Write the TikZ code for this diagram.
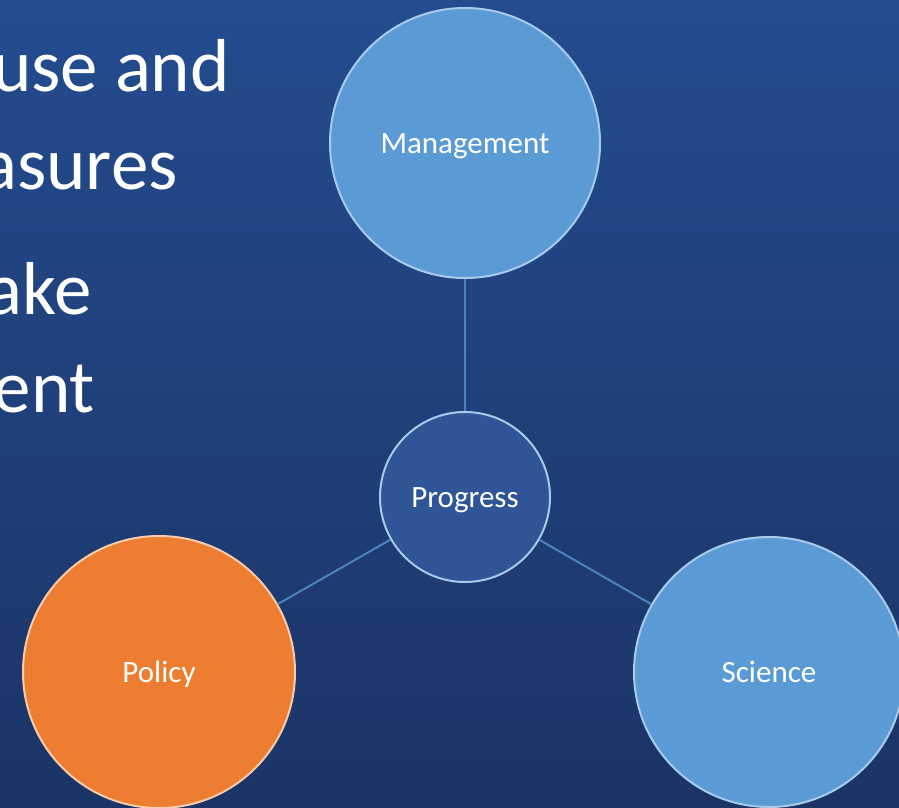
\documentclass[tikz,border=0pt]{standalone}
\usepackage{fontspec}
\setmainfont{Carlito}
\definecolor{bgtop}{HTML}{244C8F}
\definecolor{bgbot}{HTML}{1B3466}
\definecolor{lightblue}{HTML}{5B9BD5}
\definecolor{lightedge}{HTML}{A8CBEB}
\definecolor{midblue}{HTML}{2F5597}
\definecolor{orangefill}{HTML}{ED7D31}
\definecolor{orangeedge}{HTML}{F8CBAD}
\definecolor{linkblue}{HTML}{4A84BE}
\tikzset{
  bubble/.style={circle, inner sep=0pt, line width=2pt, text=white,
    font=\fontsize{31}{36}\selectfont, text height=20pt, text depth=0pt},
  bigblue/.style={bubble, fill=lightblue, draw=lightedge, minimum size=270pt},
  bigorange/.style={bubble, fill=orangefill, draw=orangeedge, minimum size=272pt},
  hub/.style={bubble, fill=midblue, draw=lightedge, minimum size=170pt},
  link/.style={draw=linkblue, line width=2pt},
  bodytext/.style={anchor=base east, inner sep=0pt, text=white,
    font=\fontsize{75}{88}\selectfont}
}
\begin{document}
\begin{tikzpicture}[x=1pt,y=-1pt]
\useasboundingbox (0,0) rectangle (899,808);
\shade[top color=bgtop, bottom color=bgbot] (0,0) rectangle (899,808);
\begin{scope}
\clip (0,0) rectangle (899,808);
\node[bodytext] (t1) at (230,91) {use and};
\node[bodytext] (t2) at (178,189) {asures};
\node[bodytext] (t3) at (92,314) {ake};
\node[bodytext] (t4) at (95,412) {ent};
\node[bigblue] (man) at (465,143) {Management};
\node[hub] (prog) at (465,497) {Progress};
\node[bigorange] (pol) at (159,672) {Policy};
\node[bigblue] (sci) at (769,672) {Science};
\draw[link] (man) -- (prog);
\draw[link] (prog) -- (pol);
\draw[link] (prog) -- (sci);
\end{scope}
\end{tikzpicture}
\end{document}
